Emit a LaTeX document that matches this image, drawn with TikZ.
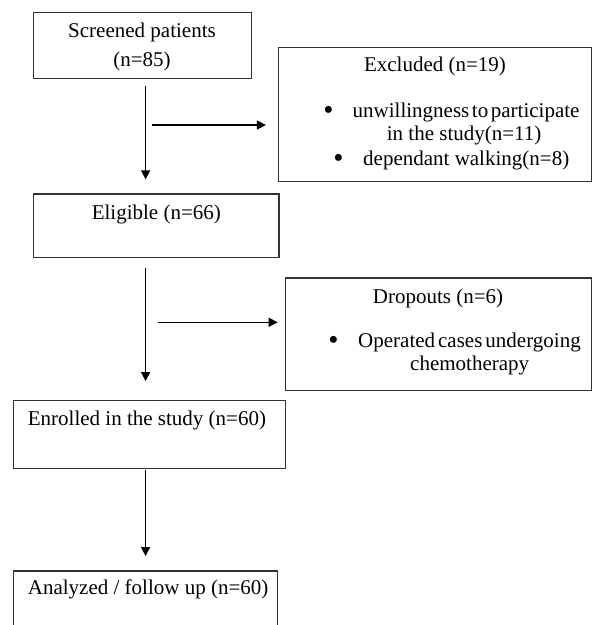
\documentclass[tikz,border=0pt]{standalone}
\usepackage{fontspec}
\setmainfont{Liberation Serif}
\usetikzlibrary{arrows.meta}
\begin{document}
\begin{tikzpicture}[x=1pt,y=-1pt,
  box/.style={draw=black!80, line width=1.2pt, inner sep=0pt},
  txt/.style={inner sep=0pt, font=\fontsize{21}{28}\selectfont, text=black},
  bul/.style={inner sep=0pt, font=\fontsize{29}{30}\selectfont, text=black, anchor=base},
  arr/.style={draw=black, line width=1.3pt, -{Triangle[length=9pt,width=9pt]}}]
\useasboundingbox (0,0) rectangle (593,625);
\clip (0,0) rectangle (593,625);
% boxes
\node[box, minimum width=218.4pt, minimum height=66pt] (scr) at (142.5,45.3) {};
\node[box, minimum width=313pt, minimum height=134pt] (exc) at (435,114.5) {};
\node[box, minimum width=245.7pt, minimum height=63.3pt] (eli) at (156.2,225.6) {};
\node[box, minimum width=306pt, minimum height=112.7pt] (dro) at (438.7,334.3) {};
\node[box, minimum width=272.4pt, minimum height=67.6pt] (enr) at (149.5,434.5) {};
\node[box, minimum width=264pt, minimum height=100pt] (ana) at (145.3,621) {};
% texts
\node[txt, anchor=base] (t1) at (142,37.7) {Screened patients};
\node[txt, anchor=base] (t2) at (142,66.5) {(n=85)};
\node[txt, anchor=base] (t3) at (435,71.7) {Excluded (n=19)};
\node[bul] (b1) at (328.5,119) {•};
\node[txt, anchor=base west] (t4) at (352.5,117) {unwillingness\hspace{2.6pt}to\hspace{2.6pt}participate};
\node[txt, anchor=base west] (t5) at (386.7,140.7) {in the study(n=11)};
\node[bul] (b2) at (338.5,167) {•};
\node[txt, anchor=base west] (t6) at (363,165) {dependant walking(n=8)};
\node[txt, anchor=base] (t7) at (156.3,219.3) {Eligible (n=66)};
\node[txt, anchor=base] (t8) at (438,303.3) {Dropouts (n=6)};
\node[bul] (b3) at (333.5,349.3) {•};
\node[txt, anchor=base west] (t9) at (358,347.3) {Operated\hspace{3pt}cases\hspace{3pt}undergoing};
\node[txt, anchor=base west] (t10) at (410,370.3) {chemotherapy};
\node[txt, anchor=base west] (t11) at (27.7,425) {Enrolled in the study (n=60)};
\node[txt, anchor=base west] (t12) at (27.7,594) {Analyzed / follow up (n=60)};
% connectors
\coordinate (ax) at (145.6,0);
\coordinate (h1) at (152,125);
\coordinate (h2) at (157.7,322.3);
\draw[arr, shorten <=6.7pt, shorten >=14pt] (scr.south -| ax) -- (eli.north -| ax);
\draw[arr, shorten >=12pt] (h1) -- (h1 -| exc.west);
\draw[arr, shorten <=10pt, shorten >=19pt] (eli.south -| ax) -- (enr.north -| ax);
\draw[arr, shorten >=7.4pt] (h2) -- (h2 -| dro.west);
\draw[arr, shorten <=0.7pt, shorten >=14.3pt] (enr.south -| ax) -- (ana.north -| ax);
\end{tikzpicture}
\end{document}
